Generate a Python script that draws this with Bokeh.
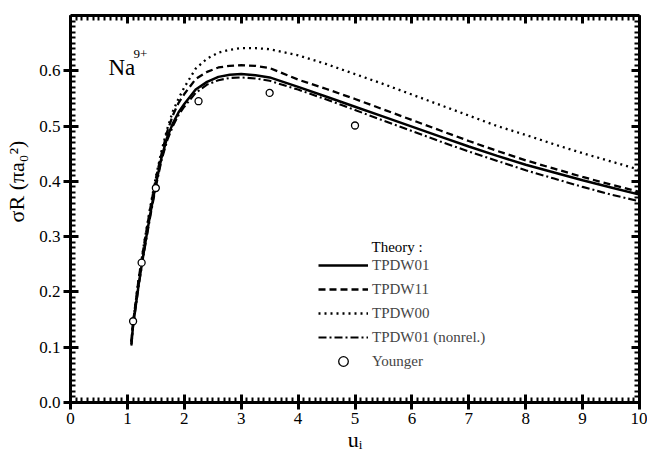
from bokeh.plotting import figure
from bokeh.models import (LinearAxis, SingleIntervalTicker, PrintfTickFormatter, Label,
                          Legend, LegendItem, Range1d)
from bokeh.embed import file_html
from bokeh.resources import INLINE

# ---- data ----
x_theory = [1.07, 1.1, 1.2, 1.3, 1.4, 1.5, 1.6, 1.7, 1.8, 1.9, 2.0, 2.2, 2.4, 2.6, 2.8,
            3.0, 3.25, 3.5, 4.0, 4.5, 5.0, 5.5, 6.0, 6.5, 7.0, 7.5, 8.0, 8.5, 9.0, 9.5, 10.0]
tpdw01 = [0.105, 0.140, 0.215, 0.280, 0.340, 0.395, 0.443, 0.480, 0.505, 0.525, 0.540, 0.566,
          0.580, 0.589, 0.593, 0.594, 0.592, 0.588, 0.571, 0.553, 0.535, 0.517, 0.499, 0.481,
          0.463, 0.446, 0.430, 0.416, 0.402, 0.389, 0.376]
tpdw11 = [0.110, 0.145, 0.225, 0.290, 0.350, 0.405, 0.450, 0.490, 0.520, 0.542, 0.558, 0.585,
          0.598, 0.606, 0.609, 0.610, 0.609, 0.605, 0.584, 0.567, 0.549, 0.530, 0.511, 0.492,
          0.473, 0.455, 0.438, 0.423, 0.408, 0.394, 0.381]
tpdw00 = [0.110, 0.145, 0.225, 0.292, 0.352, 0.408, 0.455, 0.495, 0.527, 0.550, 0.570, 0.604,
          0.622, 0.633, 0.638, 0.641, 0.641, 0.639, 0.628, 0.612, 0.594, 0.576, 0.557, 0.538,
          0.519, 0.500, 0.484, 0.467, 0.451, 0.436, 0.421]
tpdw01_nonrel = [0.103, 0.138, 0.212, 0.276, 0.335, 0.390, 0.438, 0.474, 0.500, 0.520, 0.535,
                 0.560, 0.575, 0.583, 0.587, 0.588, 0.586, 0.582, 0.566, 0.548, 0.529, 0.510,
                 0.491, 0.472, 0.454, 0.437, 0.420, 0.405, 0.390, 0.376, 0.364]
younger_x = [1.1, 1.25, 1.5, 2.25, 3.5, 5.0]
younger_y = [0.147, 0.253, 0.388, 0.545, 0.560, 0.501]

series_labels = ["TPDW01", "TPDW11", "TPDW00", "TPDW01 (nonrel.)", "Younger"]
x_title = "u\u1d62"
y_title = "\u00a0" * 10 + "σR (πa₀²)"

SERIF = "Liberation Serif"

p = figure(width=647, height=457, output_backend="svg", toolbar_location=None,
           x_range=Range1d(0, 10), y_range=Range1d(0, 0.7),
           x_axis_location=None, y_axis_location=None,
           min_border_left=70, min_border_right=8, min_border_top=15, min_border_bottom=55)
p.xgrid.visible = False
p.ygrid.visible = False
p.outline_line_color = None
p.background_fill_color = "white"
p.border_fill_color = "white"


def make_axis(kind, labels):
    if kind == "x":
        ax = LinearAxis(ticker=SingleIntervalTicker(interval=1, num_minor_ticks=10),
                        formatter=PrintfTickFormatter(format="%d"))
    else:
        ax = LinearAxis(ticker=SingleIntervalTicker(interval=0.1, num_minor_ticks=10),
                        formatter=PrintfTickFormatter(format="%.1f"))
    ax.axis_line_width = 3
    ax.axis_line_color = "black"
    ax.major_tick_line_width = 3
    ax.minor_tick_line_width = 2
    ax.minor_tick_in = 5
    ax.minor_tick_out = 0
    ax.major_tick_in = 8
    if labels:
        ax.major_tick_out = 7
        ax.major_label_text_font = SERIF
        ax.major_label_text_font_size = "17px"
        ax.major_label_text_color = "black"
        ax.major_label_standoff = 3
        ax.axis_label_text_font = SERIF
        ax.axis_label_text_font_style = "normal"
        ax.axis_label_text_color = "black"
        ax.axis_label_text_font_size = "22px"
    else:
        ax.major_tick_out = 0
        ax.major_label_text_font_size = "1px"
        ax.major_label_text_color = None
        ax.major_label_standoff = 0
    return ax


xb = make_axis("x", True)
xb.axis_label = x_title
xb.axis_label_standoff = 0
p.add_layout(xb, "below")
p.add_layout(make_axis("x", False), "above")
yl = make_axis("y", True)
yl.axis_label = y_title
yl.axis_label_standoff = 7
p.add_layout(yl, "left")
p.add_layout(make_axis("y", False), "right")

r1 = p.line(x_theory, tpdw01, line_color="black", line_width=2.5)
r2 = p.line(x_theory, tpdw11, line_color="black", line_width=2.3, line_dash="7 4")
r3 = p.line(x_theory, tpdw00, line_color="black", line_width=2.3, line_dash="2 4")
r4 = p.line(x_theory, tpdw01_nonrel, line_color="black", line_width=2.1, line_dash="8 3 2 3")
r5 = p.scatter(younger_x, younger_y, marker="circle", size=7, fill_color="white",
               line_color="black", line_width=1.3)

legend = Legend(items=[LegendItem(label=lbl, renderers=[r])
                       for lbl, r in zip(series_labels, [r1, r2, r3, r4, r5])],
                location=(248, 29))
legend.padding = 0
legend.margin = 0
legend.spacing = 0
legend.glyph_width = 50
legend.glyph_height = 24
legend.label_height = 24
legend.label_standoff = 4
legend.label_text_font = SERIF
legend.label_text_font_size = "15px"
legend.border_line_color = None
legend.background_fill_alpha = 0
p.add_layout(legend, "center")


def lab(x, y, text, size):
    p.add_layout(Label(x=x, y=y, x_units="screen", y_units="screen", text=text,
                       text_font=SERIF, text_font_size=size, text_color="black",
                       text_align="left", text_baseline="alphabetic"))


lab(301, 156, "Theory :", "15px")
lab(38, 335, "Na", "23px")
lab(63, 349, "9+", "13px")

open("out.html", "w").write(file_html(p, INLINE))
